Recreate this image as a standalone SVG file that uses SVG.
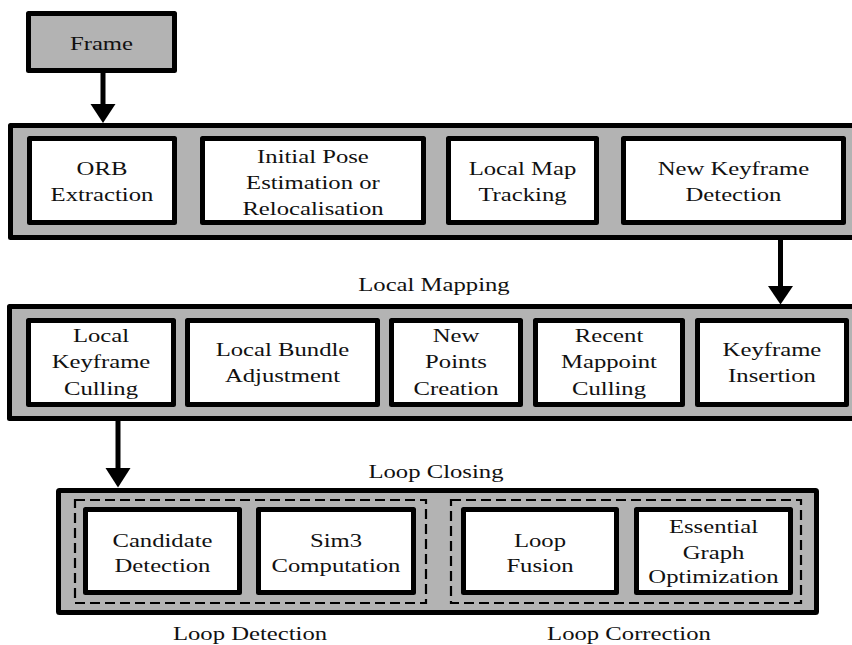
<svg xmlns="http://www.w3.org/2000/svg" width="852" height="645" viewBox="0 0 852 645">
<style>
.gray{fill:#b3b3b3;stroke:#000;stroke-width:5;stroke-linejoin:round}
.box{fill:#fff;stroke:#000;stroke-width:5;stroke-linejoin:round}
.dash{fill:none;stroke:#000;stroke-width:2.2;stroke-dasharray:10 5}
text{font-family:"Liberation Serif","Times New Roman",serif;font-size:19px;fill:#111;text-anchor:middle;transform-box:fill-box;transform-origin:center;transform:scaleX(1.3)}
.shaft{stroke:#000;stroke-width:5;fill:none}
.head{fill:#000}
</style>
<rect width="852" height="645" fill="#fff"/>
<g id="tracking">
<rect class="gray" x="10.5" y="125.5" width="850" height="112"/>
</g>
<g id="local-mapping">
<rect class="gray" x="9.5" y="306.5" width="850" height="112"/>
<text x="434" y="291">Local Mapping</text>
</g>
<g id="loop-closing">
<rect class="gray" x="58.5" y="490.5" width="758" height="122" rx="1"/>
<text x="436" y="478">Loop Closing</text>
</g>
<g id="loop-detection">
<rect class="dash" x="75" y="500" width="351" height="103"/>
<text x="250" y="640">Loop Detection</text>
</g>
<g id="loop-correction">
<rect class="dash" x="451" y="500" width="350" height="103"/>
<text x="629" y="640">Loop Correction</text>
</g>
<g id="frame">
<rect class="gray" x="28.5" y="13.5" width="146" height="57"/>
<text x="101.5" y="50">Frame</text>
</g>
<g id="orb">
<rect class="box" x="29.5" y="138.5" width="145" height="84"/>
<text x="102" y="175">ORB</text>
<text x="102" y="201">Extraction</text>
</g>
<g id="initial-pose">
<rect class="box" x="202.5" y="138.5" width="221" height="84"/>
<text x="313" y="163">Initial Pose</text>
<text x="313" y="189">Estimation or</text>
<text x="313" y="215">Relocalisation</text>
</g>
<g id="local-map-tracking">
<rect class="box" x="448.5" y="138.5" width="148" height="84"/>
<text x="522.5" y="175">Local Map</text>
<text x="522.5" y="201">Tracking</text>
</g>
<g id="new-keyframe-detection">
<rect class="box" x="623.5" y="138.5" width="220" height="84"/>
<text x="733.5" y="175">New Keyframe</text>
<text x="733.5" y="201">Detection</text>
</g>
<g id="local-keyframe-culling">
<rect class="box" x="28.5" y="320.5" width="145" height="84"/>
<text x="101" y="342">Local</text>
<text x="101" y="368">Keyframe</text>
<text x="101" y="395">Culling</text>
</g>
<g id="local-bundle-adjustment">
<rect class="box" x="187.5" y="320.5" width="190" height="84"/>
<text x="282.5" y="356">Local Bundle</text>
<text x="282.5" y="382">Adjustment</text>
</g>
<g id="new-points-creation">
<rect class="box" x="391.5" y="320.5" width="129" height="84"/>
<text x="456" y="342">New</text>
<text x="456" y="368">Points</text>
<text x="456" y="395">Creation</text>
</g>
<g id="recent-mappoint-culling">
<rect class="box" x="535.5" y="320.5" width="147" height="84"/>
<text x="609" y="342">Recent</text>
<text x="609" y="368">Mappoint</text>
<text x="609" y="395">Culling</text>
</g>
<g id="keyframe-insertion">
<rect class="box" x="697.5" y="320.5" width="149" height="84"/>
<text x="772" y="356">Keyframe</text>
<text x="772" y="382">Insertion</text>
</g>
<g id="candidate-detection">
<rect class="box" x="85.5" y="509.5" width="154" height="83"/>
<text x="162.5" y="547">Candidate</text>
<text x="162.5" y="572">Detection</text>
</g>
<g id="sim3-computation">
<rect class="box" x="258.5" y="509.5" width="155" height="83"/>
<text x="336" y="547">Sim3</text>
<text x="336" y="572">Computation</text>
</g>
<g id="loop-fusion">
<rect class="box" x="463.5" y="509.5" width="153" height="83"/>
<text x="540" y="547">Loop</text>
<text x="540" y="572">Fusion</text>
</g>
<g id="essential-graph-optimization">
<rect class="box" x="636.5" y="509.5" width="154" height="83"/>
<text x="713.5" y="533">Essential</text>
<text x="713.5" y="559">Graph</text>
<text x="713.5" y="583">Optimization</text>
</g>
<g id="connectors">
<line class="shaft" x1="103" y1="72" x2="103" y2="105"/>
<polygon class="head" points="90.5,104 115.5,104 103,123"/>
<line class="shaft" x1="780.5" y1="239" x2="780.5" y2="287"/>
<polygon class="head" points="768,286 793,286 780.5,304.5"/>
<line class="shaft" x1="118" y1="420" x2="118" y2="469"/>
<polygon class="head" points="105.5,468 130.5,468 118,487.5"/>
</g>
</svg>
